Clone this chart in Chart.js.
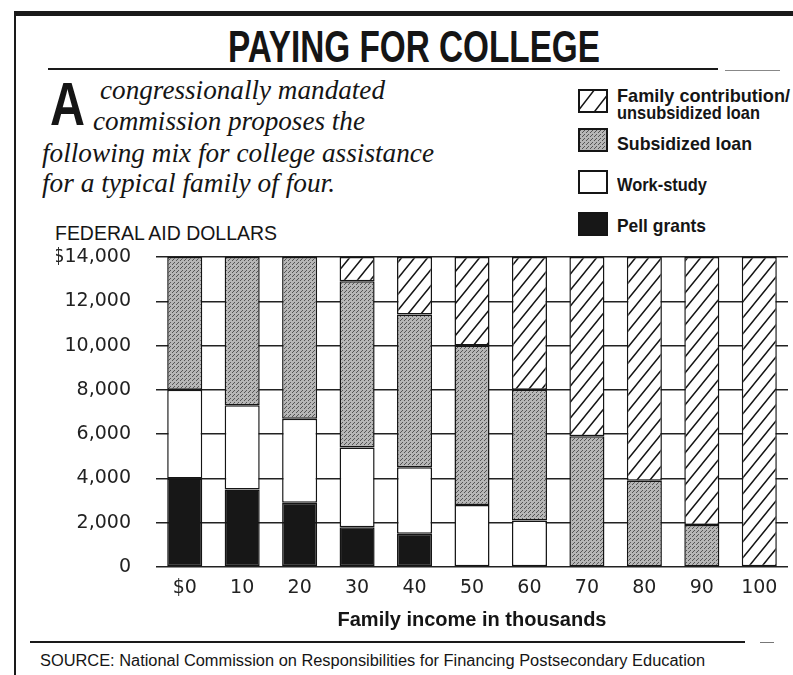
<!DOCTYPE html>
<html>
<head>
<meta charset="utf-8">
<script src="https://cdn.jsdelivr.net/npm/chart.js@4.4.1/dist/chart.umd.min.js"></script>
<style>
  body { margin: 0; background: #fff; width: 793px; height: 675px; position: relative; overflow: hidden; color: #151515; }
  .t { position: absolute; white-space: nowrap; transform-origin: 0 0; line-height: 1; }
  .rule { position: absolute; background: #1a1a1a; }
  .serif { font-family: "Liberation Serif", serif; font-style: italic; font-size: 27px; }
  .leg { font-family: "Liberation Sans", sans-serif; font-weight: bold; font-size: 19px; }
  .sw { position: absolute; }
  #wrap { position: absolute; left: 0; top: 240px; width: 793px; height: 395px; }
</style>
</head>
<body>

<div class="rule" style="left:15px;top:11px;width:778px;height:5px"></div>
<div class="rule" style="left:14px;top:11px;width:2px;height:664px"></div>

<div class="t" id="title" style="left:228px;top:24px;font-family:'Liberation Sans',sans-serif;font-weight:bold;font-size:45px">PAYING FOR COLLEGE</div>
<div class="rule" style="left:48px;top:68px;width:670px;height:2px"></div>
<div class="rule" style="left:725px;top:70px;width:55px;height:1px;background:#888"></div>

<div class="t" id="dropA" style="left:50px;top:74px;font-family:'Liberation Sans',sans-serif;font-weight:bold;font-size:61px">A</div>
<div class="t serif" id="l1" style="left:100px;top:77px">congressionally mandated</div>
<div class="t serif" id="l2" style="left:93px;top:108px">commission proposes the</div>
<div class="t serif" id="l3" style="left:42px;top:140px">following mix for college assistance</div>
<div class="t serif" id="l4" style="left:42px;top:170px">for a typical family of four.</div>

<div class="t" id="fad" style="left:55px;top:222px;font-family:'Liberation Sans',sans-serif;font-size:21px">FEDERAL AID DOLLARS</div>

<canvas class="sw" id="sw0" width="30" height="24" style="left:578px;top:89px"></canvas>
<canvas class="sw" id="sw1" width="30" height="24" style="left:578px;top:128px"></canvas>
<canvas class="sw" id="sw2" width="30" height="24" style="left:578px;top:170px"></canvas>
<canvas class="sw" id="sw3" width="30" height="24" style="left:578px;top:212px"></canvas>
<div class="t leg" id="g0a" style="left:617px;top:86px">Family contribution/</div>
<div class="t leg" id="g0b" style="left:617px;top:103px">unsubsidized loan</div>
<div class="t leg" id="g1" style="left:617px;top:134px">Subsidized loan</div>
<div class="t leg" id="g2" style="left:617px;top:175px">Work-study</div>
<div class="t leg" id="g3" style="left:617px;top:216px">Pell grants</div>

<div id="wrap"><canvas id="chart"></canvas></div>

<div class="rule" style="left:30px;top:641px;width:715px;height:2px"></div>
<div class="rule" style="left:760px;top:642px;width:14px;height:1px;background:#777"></div>
<div class="t" id="src" style="left:40px;top:653px;font-family:'Liberation Sans',sans-serif;font-size:16px">SOURCE: National Commission on Responsibilities for Financing Postsecondary Education</div>

<script>
const incomeLabels = ["$0", "10", "20", "30", "40", "50", "60", "70", "80", "90", "100"];
const pellGrants = [4000, 3500, 2900, 1800, 1500, 0, 0, 0, 0, 0, 0];
const workStudy = [4000, 3800, 3800, 3600, 3000, 2800, 2100, 0, 0, 0, 0];
const subsidizedLoan = [6000, 6700, 7300, 7500, 6900, 7200, 5900, 5900, 3900, 1900, 0];
const familyContribution = [0, 0, 0, 1100, 2600, 4000, 6000, 8100, 10100, 12100, 14000];
const yTicks = [0, 2000, 4000, 6000, 8000, 10000, 12000, 14000];

// stretch a text element to the width it has in the print
function fit(id, w) {
  const el = document.getElementById(id);
  const r = el.getBoundingClientRect().width;
  el.style.transform = "scaleX(" + (w / r) + ")";
}
fit("title", 372);
fit("dropA", 35);
fit("l1", 285);
fit("l2", 272);
fit("l3", 392);
fit("l4", 293);
fit("fad", 222);
fit("g0a", 173);
fit("g0b", 143);
fit("g1", 135);
fit("g2", 90);
fit("g3", 89);
fit("src", 665);

// fill patterns
function hatchTile(w, h) {
  const c = document.createElement("canvas");
  c.width = w; c.height = h;
  const x = c.getContext("2d");
  x.fillStyle = "#fff";
  x.fillRect(0, 0, w, h);
  x.strokeStyle = "#151515";
  x.lineWidth = 1.5;
  x.beginPath();
  x.moveTo(0, h); x.lineTo(w, 0);
  x.moveTo(-2, 2.5); x.lineTo(2, -2.5);
  x.moveTo(w - 2, h + 2.5); x.lineTo(w + 2, h - 2.5);
  x.stroke();
  return c;
}
function stippleTile() {
  const c = document.createElement("canvas");
  c.width = 4; c.height = 4;
  const x = c.getContext("2d");
  x.fillStyle = "#b6b6b6";
  x.fillRect(0, 0, 4, 4);
  x.fillStyle = "#555";
  x.fillRect(0, 0, 1, 1);
  x.fillRect(2, 2, 1, 1);
  x.fillRect(1, 3, 1, 1);
  return c;
}
const probe = document.createElement("canvas").getContext("2d");
const hatch = probe.createPattern(hatchTile(13, 16), "repeat");
const stipple = probe.createPattern(stippleTile(), "repeat");
const pellColor = "#171717";

// legend swatches
[probe.createPattern(hatchTile(17, 22), "repeat"), stipple, "#fff", pellColor].forEach((fill, i) => {
  const x = document.getElementById("sw" + i).getContext("2d");
  x.fillStyle = fill;
  x.fillRect(0, 0, 30, 24);
  x.strokeStyle = "#151515";
  x.lineWidth = 2;
  x.strokeRect(1, 1, 28, 22);
});

const edge = ctx => (ctx.raw ? 1.5 : 0);
const tickFont = { family: "'DejaVu Sans'", size: 19 };

new Chart(document.getElementById("chart"), {
  type: "bar",
  data: {
    labels: incomeLabels,
    datasets: [
      { label: "Pell grants", data: pellGrants, backgroundColor: pellColor },
      { label: "Work-study", data: workStudy, backgroundColor: "#fff" },
      { label: "Subsidized loan", data: subsidizedLoan, backgroundColor: stipple },
      { label: "Family contribution/unsubsidized loan", data: familyContribution, backgroundColor: hatch }
    ].map(d => Object.assign(d, {
      borderColor: "#151515",
      borderWidth: edge,
      borderSkipped: false,
      barPercentage: 0.61,
      categoryPercentage: 1
    }))
  },
  options: {
    responsive: true,
    maintainAspectRatio: false,
    animation: false,
    layout: { padding: { left: 56, right: 5, top: 17, bottom: 0 } },
    plugins: { legend: { display: false }, tooltip: { enabled: false } },
    scales: {
      x: {
        stacked: true,
        grid: { display: false, drawTicks: false },
        border: { display: false },
        ticks: { color: "#222", padding: 10, font: tickFont },
        title: {
          display: true,
          text: "Family income in thousands",
          color: "#151515",
          padding: { top: 0, bottom: 3 },
          font: { family: "'Liberation Sans'", weight: "bold", size: 20 }
        },
        afterFit: s => { s.height = 68; }
      },
      y: {
        stacked: true,
        min: 0,
        max: 14000,
        afterBuildTicks: s => { s.ticks = yTicks.map(v => ({ value: v })); },
        grid: { color: "#222", lineWidth: 1.5, drawTicks: false },
        border: { display: false },
        ticks: {
          color: "#222",
          padding: 25,
          font: tickFont,
          callback: v => (v === 14000 ? "$14,000" : v.toLocaleString("en-US"))
        },
        afterFit: s => { s.width = 100; s.paddingTop = 12; s.paddingBottom = 12; }
      }
    }
  }
});
</script>
</body>
</html>
